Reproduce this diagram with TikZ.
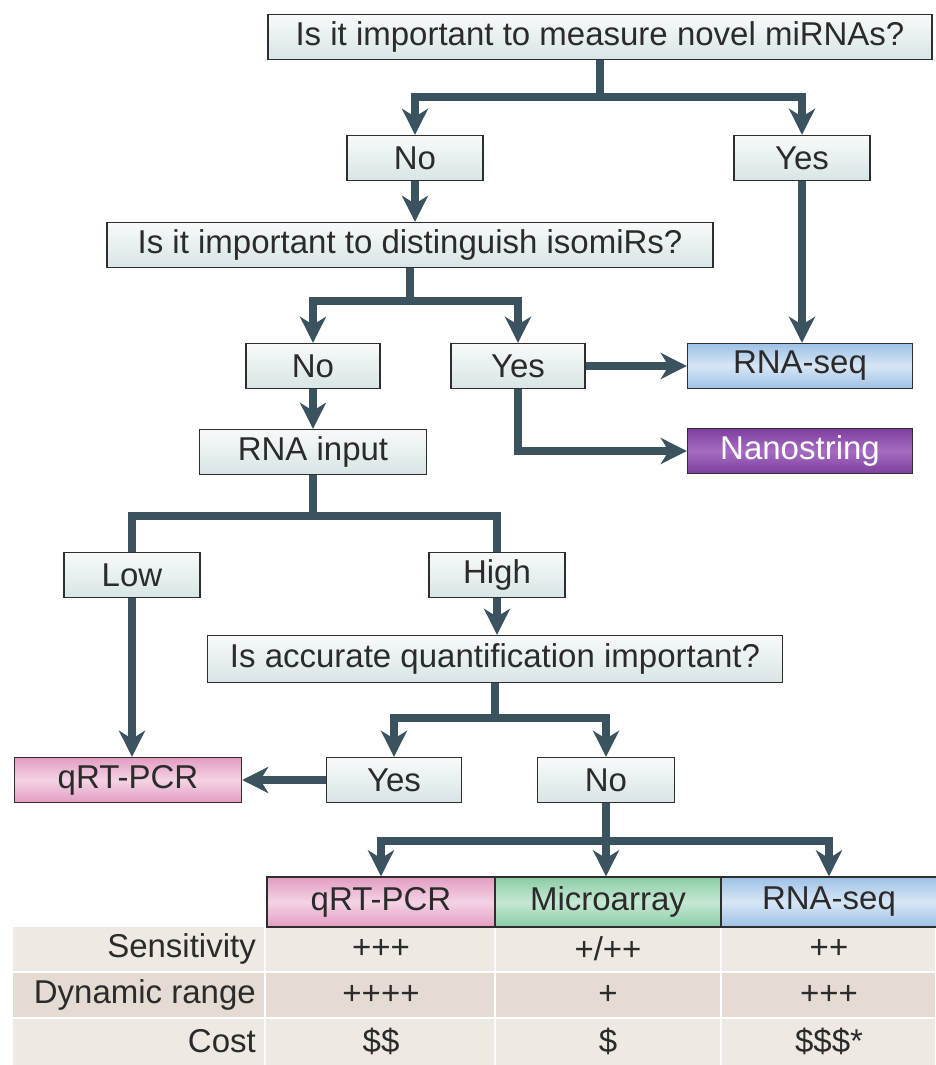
\documentclass[tikz,border=0pt]{standalone}
\usepackage{fontspec}
\setmainfont{Liberation Sans}
\usetikzlibrary{arrows.meta}

\definecolor{flujo}{HTML}{3A535E}
\definecolor{borde}{HTML}{2E2E2E}
\definecolor{texto}{HTML}{2B2B2B}
\definecolor{cajaA}{HTML}{F8FAFA}
\definecolor{cajaB}{HTML}{D8E5E6}
\definecolor{azulA}{HTML}{9DC2E6}
\definecolor{azulB}{HTML}{D7E6F5}
\definecolor{moradoA}{HTML}{7E3E9E}
\definecolor{moradoB}{HTML}{A56CC2}
\definecolor{rosaA}{HTML}{E39DC2}
\definecolor{rosaB}{HTML}{F4D3E4}
\definecolor{verdeA}{HTML}{8ACDA4}
\definecolor{verdeB}{HTML}{C6E8D4}
\definecolor{filaA}{HTML}{EEE9E3}
\definecolor{filaB}{HTML}{E4DCD2}

\begin{document}
	\begin{tikzpicture}[x=1pt, y=-1pt,
		caja/.style={draw=borde, line width=1.4pt, top color=cajaA, bottom color=cajaB,
			text=texto, inner sep=0pt, minimum height=45pt, font=\fontsize{33}{36}\selectfont},
		azul/.style={caja, top color=azulA, bottom color=azulA, middle color=azulB},
		morado/.style={caja, top color=moradoA, bottom color=moradoA, middle color=moradoB, text=white},
		rosa/.style={caja, top color=rosaA, bottom color=rosaA, middle color=rosaB},
		verde/.style={caja, top color=verdeA, bottom color=verdeA, middle color=verdeB},
		celda/.style={text=texto, inner sep=0pt, font=\fontsize{33}{36}\selectfont},
		flecha/.style={draw=flujo, line width=8pt, -{Stealth[length=26pt, width=26pt, inset=8pt]}},
		linea/.style={draw=flujo, line width=8pt}]
		\useasboundingbox (0,0) rectangle (935,1065);
		
		\node[caja, minimum width=664pt] (q1) at (600,37) {Is it important to measure novel miRNAs?};
		\node[caja, minimum width=136pt] (no1) at (415,158) {No};
		\node[caja, minimum width=136pt] (yes1) at (802,158) {Yes};
		\node[caja, minimum width=606pt] (q2) at (410,245) {Is it important to distinguish isomiRs?};
		\node[caja, minimum width=134pt] (no2) at (313,366) {No};
		\node[caja, minimum width=134pt] (yes2) at (518,366) {Yes};
		\node[azul, minimum width=225pt] (rnaseq) at (800,366) {RNA-seq};
		\node[morado, minimum width=225pt] (nano) at (800,451) {Nanostring};
		\node[caja, minimum width=227pt] (rna) at (313,452) {RNA input};
		\node[caja, minimum width=136pt] (low) at (132,575) {Low};
		\node[caja, minimum width=136pt] (high) at (497,575) {High};
		\node[caja, minimum width=575pt, minimum height=47pt] (q3) at (495,659) {Is accurate quantification important?};
		\node[caja, minimum width=135pt] (yes3) at (394,780) {Yes};
		\node[caja, minimum width=137pt] (no3) at (606,780) {No};
		\node[rosa, minimum width=227pt] (qpcr) at (128,780) {qRT-PCR};
		
		% Fondo de la tabla
		\foreach \y/\c in {927/filaA, 972/filaB, 1018/filaA}
			\fill[\c] (13,\y) rectangle (935,\y+47);
		\foreach \x in {265,495,721}
			\draw[white, line width=2.5pt] (\x,927) -- (\x,1065);
		\foreach \y in {972,1018}
			\draw[white, line width=2.5pt] (13,\y) -- (935,\y);
		
		\node[rosa, minimum width=228pt, minimum height=50pt] (t1) at (381,902) {qRT-PCR};
		\node[verde, minimum width=226pt, minimum height=50pt] (t2) at (608,902) {Microarray};
		\node[azul, minimum width=216pt, minimum height=50pt] (t3) at (829,902) {RNA-seq};
		
		\foreach \n/\y/\etq/\a/\b/\c in {1/949/Sensitivity/+++/{+/++}/++, 2/995/Dynamic range/++++/+/+++, 3/1041/Cost/\$\$/\$/\$\$\$*} {
			\node[celda, anchor=east] (e\n) at (256,\y) {\etq};
			\node[celda] (a\n) at (381,\y) {\a};
			\node[celda] (b\n) at (608,\y) {\b};
			\node[celda] (c\n) at (829,\y) {\c};
		}
		
		\draw[flecha] (q1.south) -- ++(0,37) -| (no1.north);
		\draw[flecha] (q1.south) -- ++(0,37) -| (yes1.north);
		\draw[flecha] (no1.south) -- (no1.south |- q2.north);
		\draw[flecha] (yes1.south) -- (yes1.south |- rnaseq.north);
		\draw[flecha] (q2.south) -- ++(0,33) -| (no2.north);
		\draw[flecha] (q2.south) -- ++(0,33) -| (yes2.north);
		\draw[flecha] (yes2.east) -- (rnaseq.west);
		\draw[flecha] (yes2.south) |- (nano.west);
		\draw[flecha] (no2.south) -- (no2.south |- rna.north);
		\draw[linea] (rna.south) -- ++(0,41) -| (low.north);
		\draw[linea] (rna.south) -- ++(0,41) -| (high.north);
		\draw[flecha] (low.south) -- (low.south |- qpcr.north);
		\draw[flecha] (high.south) -- (high.south |- q3.north);
		\draw[flecha] (q3.south) -- ++(0,35) -| (yes3.north);
		\draw[flecha] (q3.south) -- ++(0,35) -| (no3.north);
		\draw[flecha] (yes3.west) -- (qpcr.east);
		\draw[flecha] (no3.south) -- ++(0,38) -| (t1.north);
		\draw[flecha] (no3.south) -- (no3.south |- t2.north);
		\draw[flecha] (no3.south) -- ++(0,38) -| (t3.north);
	\end{tikzpicture}
\end{document}
